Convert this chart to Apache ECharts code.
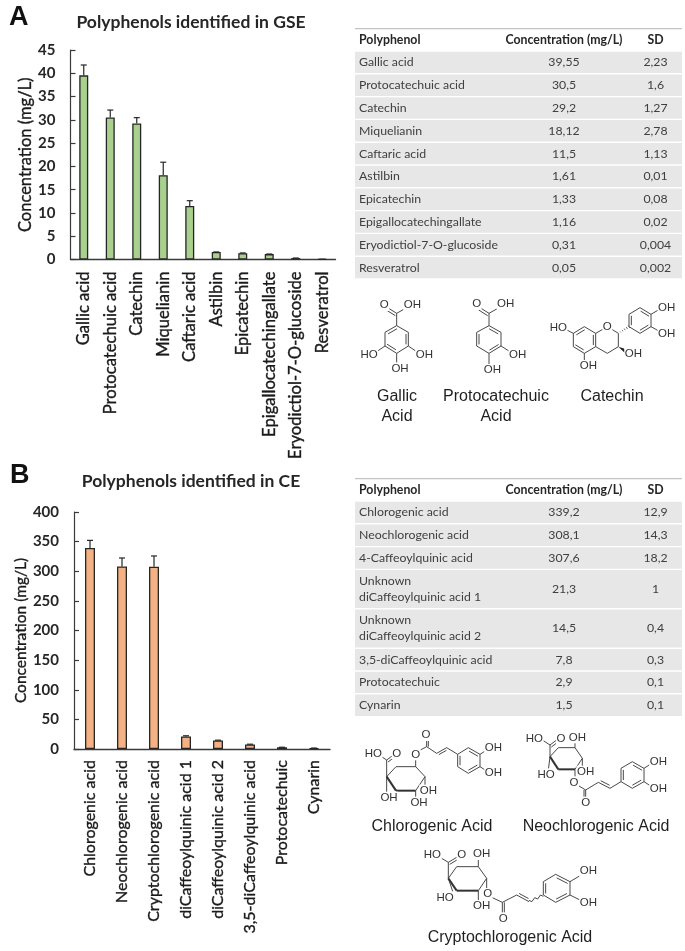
<!DOCTYPE html>
<html><head><meta charset="utf-8">
<style>html,body{margin:0;padding:0;background:#fff}#c{width:685px;height:951px}</style>
<script src="https://cdn.jsdelivr.net/npm/echarts@6/dist/echarts.min.js"></script>
</head><body><div id="c"></div>
<script>
const gseCategories=['Gallic acid','Protocatechuic acid','Catechin','Miquelianin','Caftaric acid','Astilbin','Epicatechin','Epigallocatechingallate','Eryodictiol-7-O-glucoside','Resveratrol'];
const gseValues=[39.55,30.5,29.2,18.12,11.5,1.61,1.33,1.16,0.31,0.05];
const gseSD=[2.23,1.6,1.27,2.78,1.13,0.01,0.08,0.02,0.004,0.002];
const gseValueText=['39,55','30,5','29,2','18,12','11,5','1,61','1,33','1,16','0,31','0,05'];
const gseSDText=['2,23','1,6','1,27','2,78','1,13','0,01','0,08','0,02','0,004','0,002'];

const ceCategories=['Chlorogenic acid','Neochlorogenic acid','Cryptochlorogenic acid','diCaffeoylquinic acid 1','diCaffeoylquinic acid 2','3,5-diCaffeoylquinic acid','Protocatechuic','Cynarin'];
const ceValues=[339.2,308.1,307.6,21.3,14.5,7.8,2.9,1.5];
const ceSD=[12.9,14.3,18.2,1,0.4,0.3,0.1,0.1];
const ceTableNames=['Chlorogenic acid','Neochlorogenic acid','4-Caffeoylquinic acid','Unknown\ndiCaffeoylquinic acid 1','Unknown\ndiCaffeoylquinic acid 2','3,5-diCaffeoylquinic acid','Protocatechuic','Cynarin'];
const ceValueText=['339,2','308,1','307,6','21,3','14,5','7,8','2,9','1,5'];
const ceSDText=['12,9','14,3','18,2','1','0,4','0,3','0,1','0,1'];

const tableHeader=['Polyphenol','Concentration (mg/L)','SD'];
const UI='Lato, "Open Sans", sans-serif';
const AR='"Liberation Sans", Arial, sans-serif';
const DARK='#262626';
const chart=echarts.init(document.getElementById('c'),null,{renderer:'canvas'});

function errRender(params,api){
  const x=api.value(0),v=api.value(1),s=api.value(2);
  const a=api.coord([x,v]),b=api.coord([x,v+s]);
  const st={stroke:DARK,lineWidth:1.2,fill:null};
  return {type:'group',children:[
    {type:'line',shape:{x1:a[0],y1:a[1],x2:b[0],y2:b[1]},style:st},
    {type:'line',shape:{x1:b[0]-3,y1:b[1],x2:b[0]+3,y2:b[1]},style:st}
  ]};
}
const g=[];
function T(text,x,y,font,fill,align,extra){
  g.push({type:'text',x:x,y:y,silent:true,style:Object.assign({text:text,font:font,fill:fill||'#404040',align:align||'left',verticalAlign:'middle'},extra||{})});
}
function R(x,y,w,h,c){g.push({type:'rect',shape:{x:x,y:y,width:w,height:h},silent:true,style:{fill:c}});}

// ---------- tables
const TX0=355,TW=327,TC=564,TS=655.5;
const cellFont='12.3px '+UI, headFont='bold 12.3px '+UI;
function drawTable(top,names,vals,sds,rowHeights,gap){
  R(TX0,top,TW,1.2,'#C4C4C4');
  T(tableHeader[0],359,top+12.5,headFont,'#262626');
  T(tableHeader[1],TC,top+12.5,headFont,'#262626','center');
  T(tableHeader[2],TS,top+12.5,headFont,'#262626','center');
  let y=top+23.7;
  names.forEach((n,i)=>{
    const h=rowHeights[i];
    R(TX0,y,TW,h,'#E7E7E8');
    const cy=y+h/2;
    const lines=n.split('\n');
    if(lines.length===2){
      T(lines[0],359,cy-8,cellFont);T(lines[1],359,cy+8,cellFont);
    }else T(n,359,cy,cellFont);
    T(vals[i],TC,cy,cellFont,'#404040','center');
    T(sds[i],TS,cy,cellFont,'#404040','center');
    y+=h+gap;
  });
}
drawTable(28,gseCategories,gseValueText,gseSDText,gseCategories.map(()=>21.4),1.4);
drawTable(478,ceTableNames,ceValueText,ceSDText,[21.4,21.4,21.4,38,38,21.4,21.4,21.4],1.4);

// ---------- molecule helper (coordinates are in 1/3-pixel drawing units)
function Mol(ox,oy){
  const P=(v,o)=>o+v/3;
  const st={stroke:'#333',lineWidth:0.9};
  const m={
    l(a,b,c,d,w){g.push({type:'line',silent:true,shape:{x1:P(a,ox),y1:P(b,oy),x2:P(c,ox),y2:P(d,oy)},style:{stroke:st.stroke,lineWidth:w||st.lineWidth}});return m;},
    path(pts,closed){for(let i=0;i<pts.length-1;i++)m.l(pts[i][0],pts[i][1],pts[i+1][0],pts[i+1][1]);if(closed)m.l(pts[pts.length-1][0],pts[pts.length-1][1],pts[0][0],pts[0][1]);return m;},
    dbl(a,b,c,d,dx,dy,s){
      const k=s==null?0.12:s;const ex=(c-a)*k,ey=(d-b)*k;
      return m.l(a+dx+ex,b+dy+ey,c+dx-ex,d+dy-ey);
    },
    t(txt,x,y){g.push({type:'text',silent:true,x:P(x,ox),y:P(y,oy),style:{text:txt,font:'11.5px '+AR,fill:'#333',align:'center',verticalAlign:'middle',backgroundColor:'#fff',padding:[0,0.5]}});return m;},
    wedge(a,b,c,d){g.push({type:'polygon',silent:true,shape:{points:[[P(a,ox),P(b,oy)],[P(c,ox)-1.3,P(d,oy)+1.8],[P(c,ox)+1.3,P(d,oy)-1.8]]},style:{fill:'#222'}});return m;},
    hash(a,b,c,d){
      for(let i=1;i<=5;i++){const t=i/5;const x=a+(c-a)*t,y=b+(d-b)*t;const r=0.8+t*3.5;m.l(x-r*0.55,y-r*0.85,x+r*0.55,y+r*0.85,0.7);}
      return m;},
    bold(pts){for(let i=0;i<pts.length-1;i++)m.l(pts[i][0],pts[i][1],pts[i+1][0],pts[i+1][1],2);return m;},
    wavy(a,b,c,d){
      const n=5;const pts=[];for(let i=0;i<=n;i++){const t=i/n;const off=(i%2?4:-4);pts.push([P(a+(c-a)*t,ox),P(b+(d-b)*t+off,oy)]);}
      g.push({type:'polyline',silent:true,shape:{points:pts},style:{stroke:'#333',lineWidth:0.9,fill:null}});return m;}
  };
  return m;
}
// Gallic acid
Mol(345,285).path([[155,122],[190,142],[190,183],[155,205],[120,183],[120,142]],true)
 .dbl(190,142,190,183,-7,0).dbl(155,205,120,183,2,-8).dbl(120,142,155,122,5,7)
 .l(155,122,155,85).l(155,85,128,68).dbl(155,85,128,68,-4,7,0).l(155,85,185,68)
 .l(120,183,95,200).l(190,183,215,200).l(155,205,155,235)
 .t('O',118,60).t('OH',202,60).t('HO',72,210).t('OH',238,210).t('OH',165,250);
// Protocatechuic acid
Mol(345,285).path([[432,122],[468,142],[468,183],[432,205],[395,183],[395,142]],true)
 .dbl(468,142,432,122,-4,7).dbl(468,183,432,205,-3,-7).dbl(395,183,395,142,7,0)
 .l(432,122,432,85).l(432,85,405,68).dbl(432,85,405,68,-4,7,0).l(432,85,462,68)
 .l(468,183,495,200).l(432,205,432,238)
 .t('O',395,57).t('OH',482,55).t('OH',518,210).t('OH',442,255);
// Catechin
Mol(345,285).path([[718,125],[752,145],[752,185],[718,205],[685,185],[685,145]],true)
 .dbl(752,145,752,185,-7,0).dbl(718,205,685,185,2,-8).dbl(685,145,718,125,5,7)
 .l(685,145,660,132).l(718,205,718,230).l(752,145,775,132).l(799,132,820,145).l(820,145,820,185).l(820,185,787,205).l(787,205,752,185)
 .wedge(820,185,845,200).hash(820,145,852,125)
 .path([[852,125],[852,88],[885,68],[918,88],[918,125],[885,145]],true)
 .dbl(852,125,852,88,7,0).dbl(885,68,918,88,-2,8).dbl(918,125,885,145,-4,-7)
 .l(918,88,945,72).l(918,125,945,140)
 .t('HO',640,127).t('OH',730,243).t('O',787,125).t('OH',865,205).t('OH',965,67).t('OH',965,145);
// Chlorogenic acid
Mol(345,725).path([[125,155],[153,125],[212,125],[240,155],[212,197]]).l(125,155,153,197).bold([[153,197],[212,197]]).l(125,155,153,197,2)
 .l(125,155,125,105).l(125,105,148,88).dbl(125,105,148,88,4,6,0).l(125,105,105,92).l(125,155,125,205).l(212,197,212,222).l(240,155,240,185)
 .l(212,125,212,100).l(220,78,245,65).l(245,65,245,42).dbl(245,65,245,42,5,0,0).l(245,65,275,85).l(275,85,305,68).dbl(275,85,305,68,3,6).l(305,68,338,88)
 .path([[338,88],[370,68],[405,88],[405,125],[370,145],[338,125]],true).dbl(370,68,405,88,-2,8).dbl(405,125,370,145,-4,-7).dbl(338,125,338,88,7,0)
 .l(405,88,425,75).l(405,125,425,138)
 .t('HO',85,85).t('O',155,85).t('OH',132,218).t('OH',222,233).t('OH',250,197).t('O',212,88).t('O',243,30).t('OH',445,68).t('OH',445,143);
// Neochlorogenic acid
Mol(345,725).path([[615,95],[640,68],[690,68],[712,100],[690,133]]).l(615,95,640,133,2).bold([[640,133],[690,133]])
 .l(615,95,615,60).l(615,60,635,45).dbl(615,60,635,45,4,6,0).l(615,60,595,47).l(615,95,610,135).l(690,68,690,48).l(712,100,712,128)
 .l(690,133,690,160).l(697,180,722,195).l(722,195,722,222).dbl(722,195,722,222,-5,0,0).l(722,195,760,172).l(760,172,795,190).dbl(760,172,795,190,3,-7).l(795,190,828,170)
 .path([[828,170],[828,130],[862,110],[897,130],[897,170],[862,190]],true).dbl(828,170,828,130,7,0).dbl(862,110,897,130,-2,8).dbl(897,170,862,190,-4,-7)
 .l(897,130,920,115).l(897,170,920,185)
 .t('HO',568,40).t('O',648,40).t('HO',603,148).t('OH',697,37).t('OH',722,140).t('O',687,172).t('O',722,233).t('OH',940,110).t('OH',940,190);
// Cryptochlorogenic acid
Mol(345,725).path([[310,460],[335,425],[400,425],[425,460],[400,497]]).l(310,460,335,497,2).bold([[335,497],[400,497]])
 .l(310,460,310,412).l(310,412,335,397).dbl(310,412,335,397,4,6,0).l(310,412,290,400).l(310,460,325,505).l(400,425,400,402).l(400,497,400,525)
 .l(425,460,425,495).l(440,517,472,532).l(472,532,472,565).dbl(472,532,472,565,6,0,0).l(472,532,515,510).l(515,510,552,530).dbl(515,510,552,530,3,-7).wavy(552,530,595,510)
 .path([[595,510],[595,470],[632,448],[675,470],[675,510],[632,532]],true).dbl(595,510,595,470,7,0).dbl(632,448,675,470,-2,8).dbl(675,510,632,532,-4,-7)
 .l(675,470,705,452).l(675,510,705,525)
 .t('HO',262,390).t('O',350,390).t('HO',300,517).t('OH',410,387).t('OH',410,543).t('O',428,507).t('O',475,580).t('OH',730,438).t('OH',730,533);

// captions of the structures
const capFont='16px '+AR;
[['Gallic',397,397],['Acid',397,417],['Protocatechuic',496,397],['Acid',496,417],['Catechin',612,397],
 ['Chlorogenic Acid',432,827],['Neochlorogenic Acid',596,827],['Cryptochlorogenic Acid',510,938]]
 .forEach(c=>T(c[0],c[1],c[2],capFont,'#1f1f1f','center'));

const INK='#1a1a1a';
function yAxis(gridIndex,max,interval,nameSize,nameGap,labelSize){
  return {type:'value',gridIndex,min:0,max,interval,name:'Concentration (mg/L)',nameLocation:'middle',nameGap,
    nameTextStyle:{fontFamily:UI,fontSize:nameSize,color:INK,textBorderColor:INK,textBorderWidth:0.35},
    axisLine:{show:true,lineStyle:{color:'#3a3a3a',width:1.2}},axisTick:{show:true,inside:true,length:5,lineStyle:{color:'#3a3a3a',width:1.2}},
    splitLine:{show:false},axisLabel:{fontFamily:UI,fontSize:labelSize,fontWeight:'bold',color:'#262626',margin:15}};
}
function xAxis(gridIndex,cats,margin,size){
  return {type:'category',gridIndex,data:cats,axisLine:{onZero:true,lineStyle:{color:'#3a3a3a',width:1.4}},axisTick:{show:false},
    axisLabel:{interval:0,rotate:90,margin,fontFamily:UI,fontSize:size,color:INK,textBorderColor:INK,textBorderWidth:0.35}};
}
function bars(idx,vals,barW,fill){
  return {type:'bar',xAxisIndex:idx,yAxisIndex:idx,data:vals,barWidth:barW,itemStyle:{color:fill,borderColor:DARK,borderWidth:1.3},silent:true,animation:false};
}
function errs(idx,vals,sds){
  return {type:'custom',xAxisIndex:idx,yAxisIndex:idx,data:vals.map((v,i)=>[i,v,sds[i]]),encode:{x:0,y:1},renderItem:errRender,silent:true,animation:false,z:3};
}
chart.setOption({
  animation:false,backgroundColor:'#fff',
  title:[
    {text:'A',left:4,top:-1,textStyle:{fontFamily:AR,fontSize:27,fontWeight:'bold',color:'#111'}},
    {text:'B',left:5,top:457,textStyle:{fontFamily:AR,fontSize:27,fontWeight:'bold',color:'#111'}},
    {text:'Polyphenols identified in GSE',left:186,top:8,textAlign:'center',textStyle:{fontFamily:UI,fontSize:17.5,fontWeight:'bold',color:'#262626'}},
    {text:'Polyphenols identified in CE',left:186,top:467,textAlign:'center',textStyle:{fontFamily:UI,fontSize:17.5,fontWeight:'bold',color:'#262626'}}
  ],
  grid:[
    {left:70.5,top:50,width:265,height:209.5,containLabel:false},
    {left:74,top:512,width:256,height:237,containLabel:false}
  ],
  xAxis:[xAxis(0,gseCategories,12,16.6),xAxis(1,ceCategories,11,16)],
  yAxis:[yAxis(0,45,5,16.5,36,15),yAxis(1,400,50,15.5,45,15)],
  series:[bars(0,gseValues,9,'#A9D18E'),errs(0,gseValues,gseSD),bars(1,ceValues,10,'#F4B183'),errs(1,ceValues,ceSD)],
  graphic:{elements:g}
});
</script></body></html>
